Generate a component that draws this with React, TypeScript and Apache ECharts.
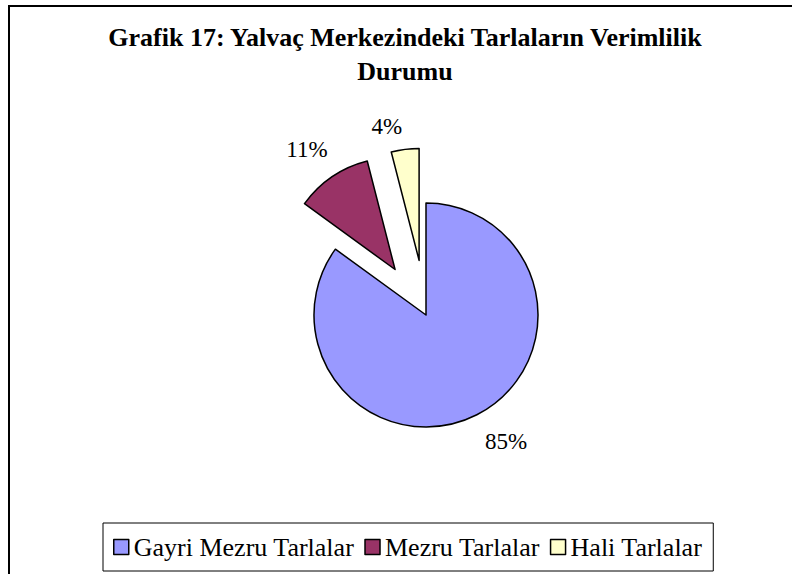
import React, { useEffect, useRef } from "react";
import * as echarts from "echarts";

const titleLines = ["Grafik 17: Yalvaç Merkezindeki Tarlaların Verimlilik", "Durumu"];
const categories = ["Gayri Mezru Tarlalar", "Mezru Tarlalar", "Hali Tarlalar"];
const values = [85, 11, 4];
const colors = ["#9999FF", "#993366", "#FFFFCC"];
const exploded = [false, true, true];

// label placement tweaks (style/layout only)
const LABEL_LEN = [38, 36, 26];
const LABEL_NUDGE = [
  [12, -7],
  [-5, 2],
  [-15, 3],
];

export default function App() {
  const ref = useRef<HTMLDivElement>(null);
  useEffect(() => {
    if (!ref.current) return;
    const chart = echarts.init(ref.current, undefined, { renderer: "svg" });
    const font = "Liberation Serif";
    chart.setOption({
      animation: false,
      backgroundColor: "#ffffff",
      title: {
        text: titleLines.join("\n"),
        left: 400,
        top: 15,
        textAlign: "center",
        textStyle: {
          fontFamily: font,
          fontSize: 26,
          fontWeight: "bold",
          color: "#000",
          lineHeight: 34,
        },
      },
      legend: {
        left: 103,
        top: 523,
        orient: "horizontal",
        padding: [11, 11, 11, 10],
        borderColor: "#000",
        borderWidth: 1,
        itemWidth: 15,
        itemHeight: 15,
        itemGap: 10,
        icon: "rect",
        selectedMode: false,
        data: categories,
        textStyle: { fontFamily: font, fontSize: 26, color: "#000" },
        itemStyle: { borderColor: "#000", borderWidth: 1.5 },
      },
      graphic: [
        {
          type: "rect",
          shape: { x: 9, y: 6, width: 800, height: 600 },
          style: { fill: "none", stroke: "#000", lineWidth: 2 },
          silent: true,
          z: -1,
        },
      ],
      series: [
        {
          type: "pie",
          center: [426, 315],
          radius: [0, 112],
          startAngle: 90,
          clockwise: true,
          selectedMode: "multiple",
          selectedOffset: 55,
          avoidLabelOverlap: false,
          emphasis: { disabled: true },
          itemStyle: { borderColor: "#000", borderWidth: 1.5 },
          select: { itemStyle: { borderColor: "#000", borderWidth: 1.5 } },
          label: {
            show: true,
            position: "outside",
            formatter: "{d}%",
            fontFamily: font,
            fontSize: 23,
            color: "#000",
            distanceToLabelLine: 0,
          },
          labelLine: { show: false, length2: 0 },
          labelLayout: (p: any) => ({
            align: "center",
            dx: LABEL_NUDGE[p.dataIndex][0],
            dy: LABEL_NUDGE[p.dataIndex][1],
          }),
          data: categories.map((name, i) => ({
            name,
            value: values[i],
            selected: exploded[i],
            itemStyle: { color: colors[i] },
            select: { itemStyle: { color: colors[i] } },
            labelLine: { show: false, length: LABEL_LEN[i], length2: 0 },
          })),
        },
      ],
    });
    return () => chart.dispose();
  }, []);
  return (
    <div
      ref={ref}
      style={{ position: "fixed", left: 0, top: 0, width: 792, height: 574 }}
    />
  );
}
